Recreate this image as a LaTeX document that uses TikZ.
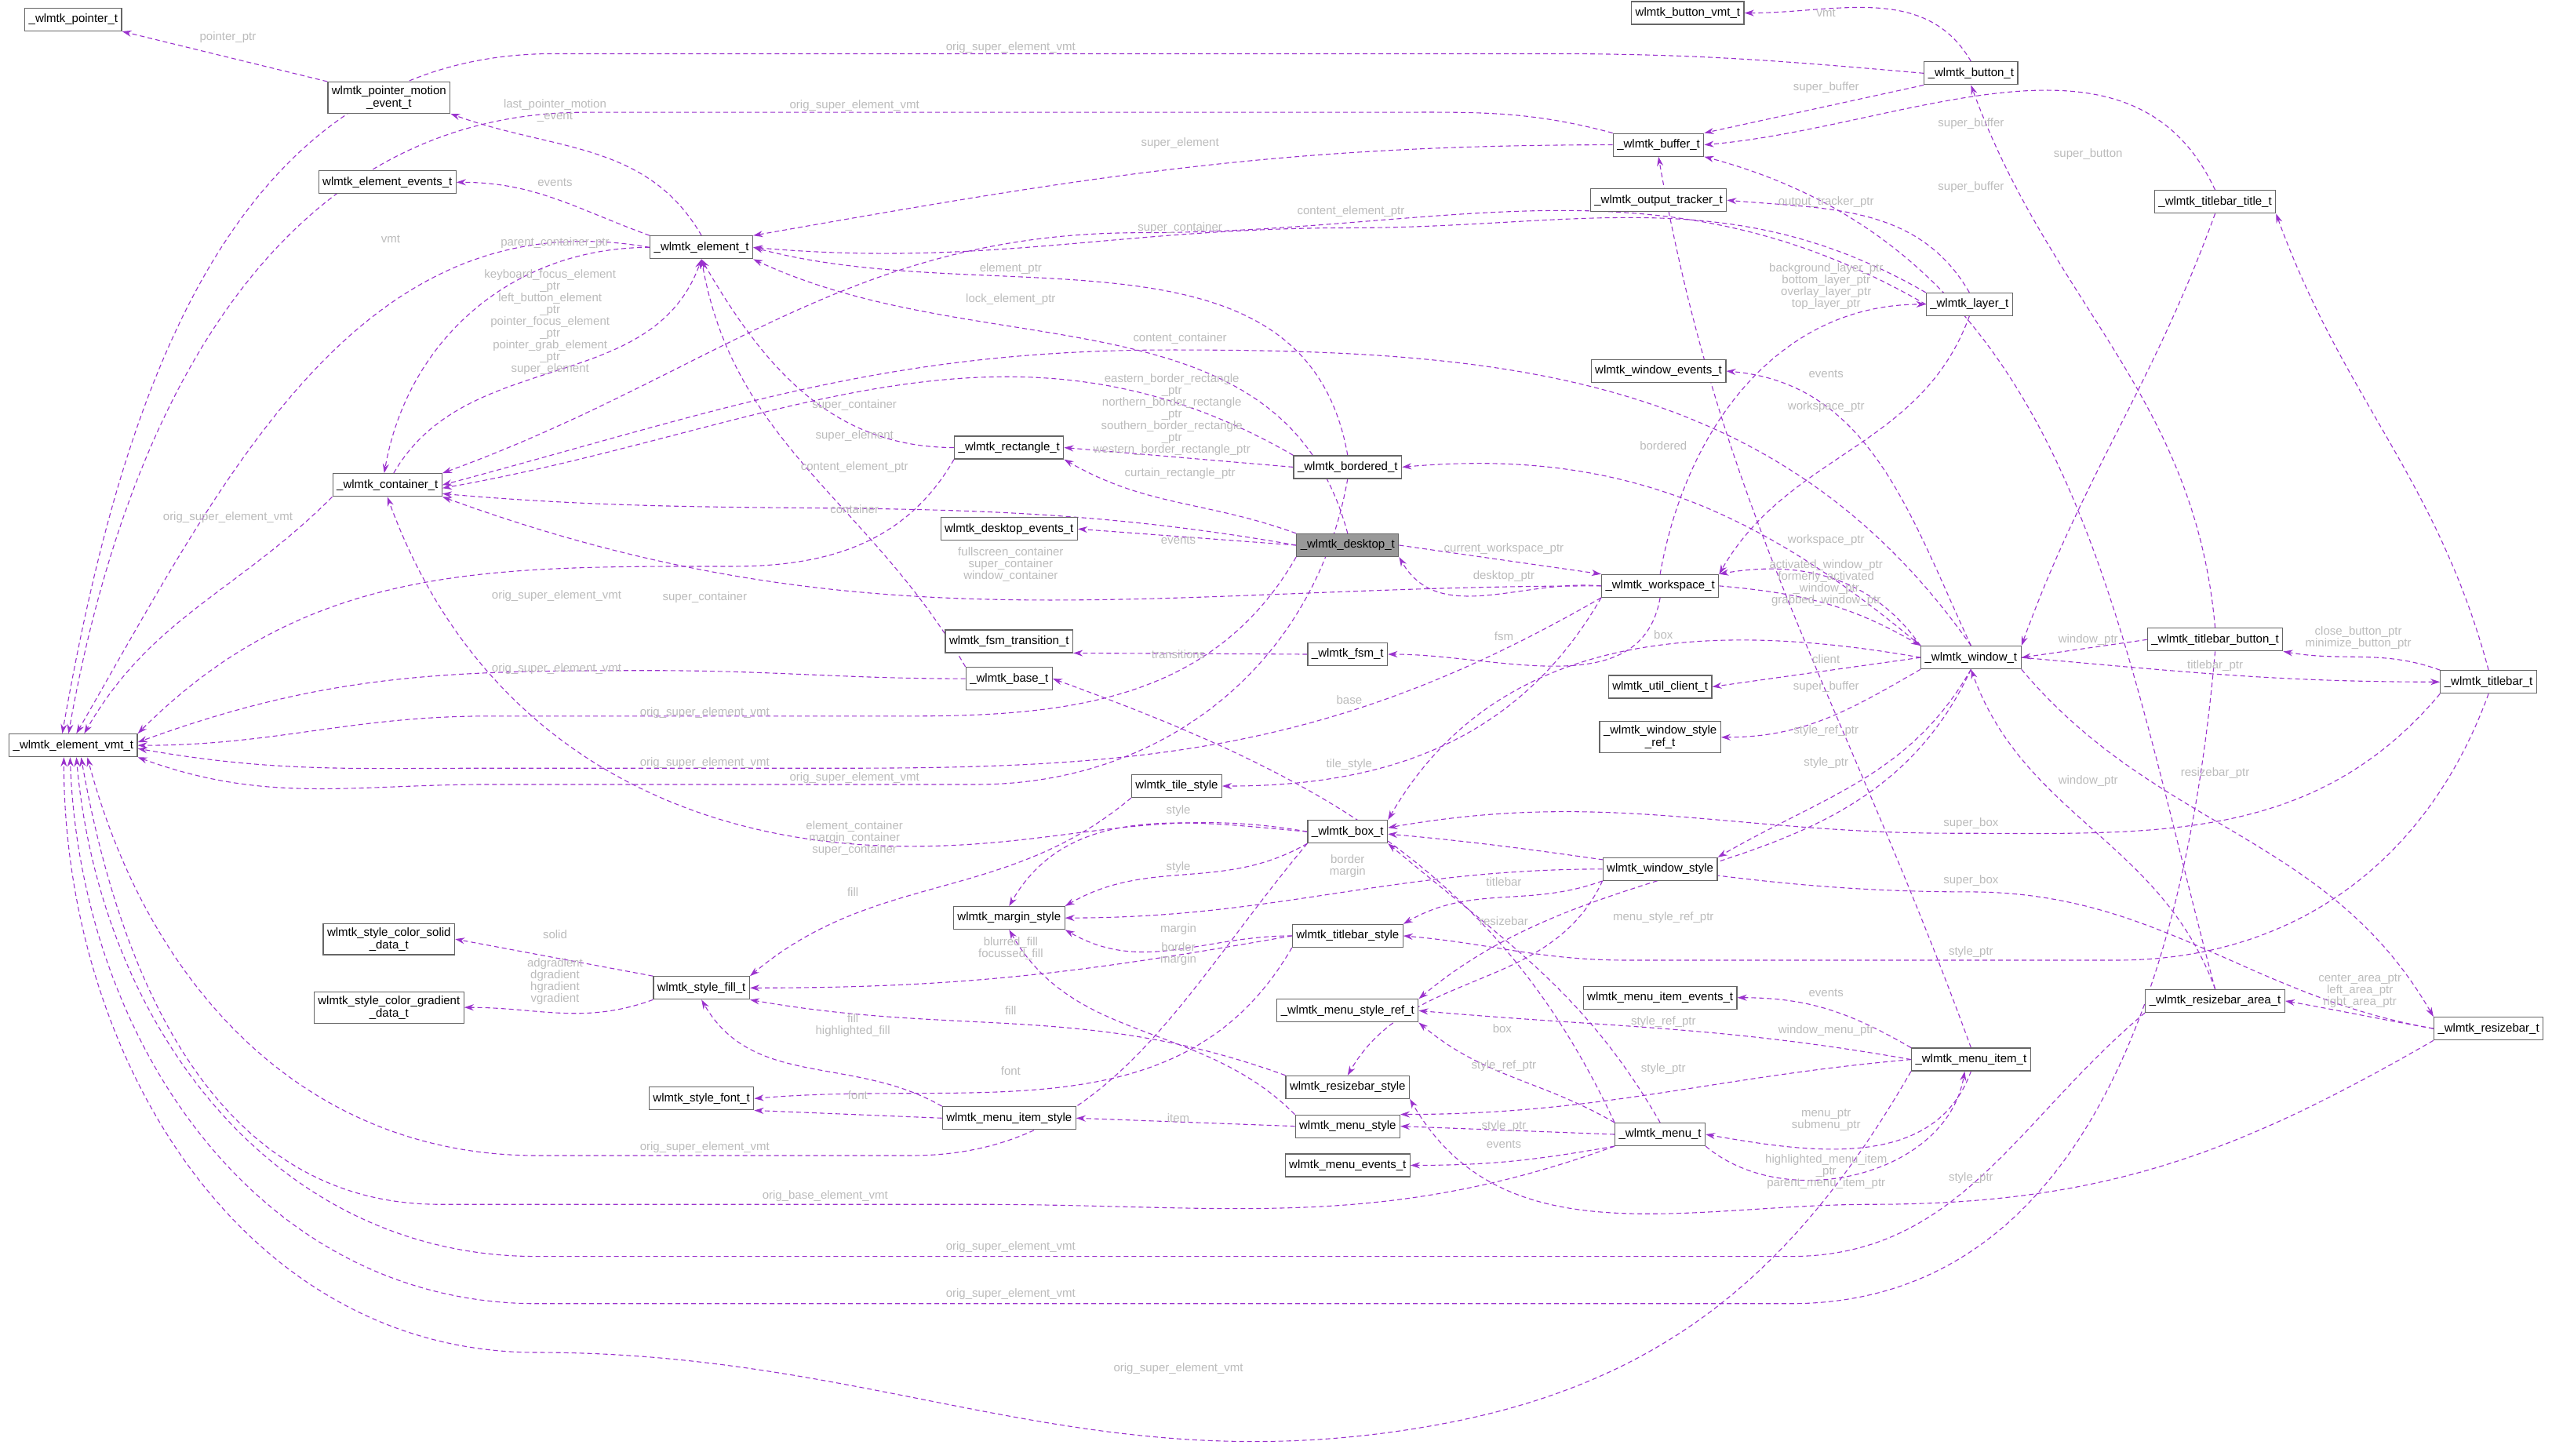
\documentclass[border=0pt]{standalone}
\usepackage{tikz}
\usepackage{graphicx}
\usepackage{fontspec}
\setmainfont{Liberation Sans}
\usetikzlibrary{arrows.meta,backgrounds}
\definecolor{edgec}{HTML}{9A32CD}
\definecolor{lblc}{HTML}{BBBBBB}
\tikzset{
  cls/.style={draw=black!60,fill=white,line width=0.24pt,inner sep=1pt,minimum height=5.8pt,align=center,font=\fontsize{3}{3.2}\selectfont},
  hl/.style={cls,fill=black!40},
  e/.style={draw=edgec,dash pattern=on 1.2pt off 0.8pt,line width=0.22pt,-{Stealth[length=2.4pt,width=1.6pt]}},
  lbl/.style={text=lblc,font=\fontsize{3}{3}\selectfont,align=center,inner sep=0pt}
}
\begin{document}
\scalebox{5}{%
\begin{tikzpicture}[x=0.415pt,y=-0.415pt]
\useasboundingbox (0,0) rectangle (1568,894.5);
% nodes
\node[cls] (ptr) at (45,12) {\_wlmtk\_pointer\_t};
\node[cls] (bvmt) at (1037,8) {wlmtk\_button\_vmt\_t};
\node[cls] (btn) at (1211,45) {\_wlmtk\_button\_t};
\node[cls] (pme) at (239,60) {wlmtk\_pointer\_motion\\\_event\_t};
\node[cls] (buf) at (1019,89) {\_wlmtk\_buffer\_t};
\node[cls] (eev) at (238,112) {wlmtk\_element\_events\_t};
\node[cls] (otr) at (1019,123) {\_wlmtk\_output\_tracker\_t};
\node[cls] (tt) at (1361,124) {\_wlmtk\_titlebar\_title\_t};
\node[cls] (el) at (431,152) {\_wlmtk\_element\_t};
\node[cls] (lay) at (1210,187) {\_wlmtk\_layer\_t};
\node[cls] (wev) at (1019,228) {wlmtk\_window\_events\_t};
\node[cls] (rect) at (620,275) {\_wlmtk\_rectangle\_t};
\node[cls] (bord) at (828,287) {\_wlmtk\_bordered\_t};
\node[cls] (cont) at (238,298) {\_wlmtk\_container\_t};
\node[cls] (dev) at (620,325) {wlmtk\_desktop\_events\_t};
\node[hl] (desk) at (828,335) {\_wlmtk\_desktop\_t};
\node[cls] (ws) at (1020,360) {\_wlmtk\_workspace\_t};
\node[cls] (fsmt) at (620,394) {wlmtk\_fsm\_transition\_t};
\node[cls] (fsm) at (828,402) {\_wlmtk\_fsm\_t};
\node[cls] (win) at (1211,404) {\_wlmtk\_window\_t};
\node[cls] (tbb) at (1361,393) {\_wlmtk\_titlebar\_button\_t};
\node[cls] (base) at (620,417) {\_wlmtk\_base\_t};
\node[cls] (tb) at (1529,419) {\_wlmtk\_titlebar\_t};
\node[cls] (uc) at (1020,422) {wlmtk\_util\_client\_t};
\node[cls] (wsr) at (1020,453) {\_wlmtk\_window\_style\\\_ref\_t};
\node[cls] (vmt) at (45,458) {\_wlmtk\_element\_vmt\_t};
\node[cls] (tile) at (723,483) {wlmtk\_tile\_style};
\node[cls] (box) at (828,511) {\_wlmtk\_box\_t};
\node[cls] (wst) at (1020,534) {wlmtk\_window\_style};
\node[cls] (solid) at (239,577) {wlmtk\_style\_color\_solid\\\_data\_t};
\node[cls] (marg) at (620,564) {wlmtk\_margin\_style};
\node[cls] (tbs) at (828,575) {wlmtk\_titlebar\_style};
\node[cls] (fill) at (431,607) {wlmtk\_style\_fill\_t};
\node[cls] (grad) at (239,619) {wlmtk\_style\_color\_gradient\\\_data\_t};
\node[cls] (mie) at (1020,613) {wlmtk\_menu\_item\_events\_t};
\node[cls] (rba) at (1361,615) {\_wlmtk\_resizebar\_area\_t};
\node[cls] (msr) at (828,621) {\_wlmtk\_menu\_style\_ref\_t};
\node[cls] (rb) at (1529,632) {\_wlmtk\_resizebar\_t};
\node[cls] (mi) at (1211,651) {\_wlmtk\_menu\_item\_t};
\node[cls] (rbs) at (828,668) {wlmtk\_resizebar\_style};
\node[cls] (font) at (431,675) {wlmtk\_style\_font\_t};
\node[cls] (mis) at (620,687) {wlmtk\_menu\_item\_style};
\node[cls] (ms) at (828,692) {wlmtk\_menu\_style};
\node[cls] (menu) at (1020,697) {\_wlmtk\_menu\_t};
\node[cls] (mev) at (828,716) {wlmtk\_menu\_events\_t};
% edges
\begin{pgfonlayer}{background}
\draw[e] (pme.north west) -- (ptr.south east);
\draw[e] (btn.west) to[out=175,in=0] (950,33) -- (340,33) to[out=180,in=80] ([xshift=-2.8pt]vmt.north);
\draw[e] (btn.north) to[out=120,in=0] (bvmt.east);
\draw[e] (btn.south west) -- (buf.north east);
\draw[e] (buf.north west) to[out=165,in=0] (850,69) -- (360,69) to[out=180,in=80] ([xshift=-1.2pt]vmt.north);
\draw[e] (buf.west) to[out=180,in=10] (el.north east);
\draw[e] (el.north) to[out=120,in=-20] (pme.south east);
\draw[e] (el.north west) to[out=160,in=0] (eev.east);
\draw[e] (el.west) to[out=170,in=60] ([xshift=0.8pt]vmt.north);
\draw[e] (el.west) to[out=180,in=80] ([xshift=-0.8pt]cont.north);
\draw[e] ([xshift=1.6pt]cont.north) to[out=60,in=-110] (el.south);
\draw[e] (cont.south west) to[out=-135,in=60] ([xshift=2.8pt]vmt.north);
\draw[e] (tt.north) to[out=115,in=5] (buf.east);
\draw[e] (tbb.north) to[out=95,in=-70] (btn.south);
\draw[e] (rba.north) to[out=105,in=-15] (buf.south east);
\draw[e] (lay.north) to[out=120,in=-5] (otr.east);
\draw[e] (lay.north west) to[out=150,in=0] (830,140) to[out=180,in=-5] (el.east);
\draw[e] (lay.west) to[out=150,in=0] (700,143) to[out=180,in=20] (cont.north east);
\draw[e] (ws.north) to[out=80,in=180] (lay.west);
\draw[e] (lay.south) to[out=-110,in=60] (ws.north east);
\draw[e] (win.north) to[out=115,in=-5] (wev.east);
\draw[e] (win.north west) to[out=125,in=10] (ws.north east);
\draw[e] (ws.east) to[out=-5,in=150] (win.north west);
\draw[e] (win.north west) to[out=140,in=5] (bord.east);
\draw[e] (bord.west) -- (rect.east);
\draw[e] (bord.north) to[out=100,in=-15] (el.east);
\draw[e] (desk.north) to[out=105,in=-25] (el.south east);
\draw[e] (win.north) to[out=125,in=0] (720,215) to[out=180,in=15] (cont.east);
\draw[e] (bord.north west) to[out=150,in=10] ([yshift=-0.8pt]cont.east);
\draw[e] (rect.west) to[out=180,in=-60] (el.south);
\draw[e] (base.north west) to[out=120,in=-80] (el.south);
\draw[e] (desk.west) to[out=170,in=-5] ([yshift=0.8pt]cont.south east);
\draw[e] (desk.west) -- (dev.east);
\draw[e] (desk.east) -- (ws.north west);
\draw[e] (ws.west) to[out=175,in=-60] (desk.south east);
\draw[e] (ws.west) to[out=180,in=-20] (cont.south east);
\draw[e] (desk.north west) to[out=160,in=-30] (rect.south east);
\draw[e] (fsm.west) -- (fsmt.south east);
\draw[e] (ws.south) to[out=-100,in=0] (fsm.east);
\draw[e] (win.west) to[out=170,in=60] (box.north east);
\draw[e] (win.west) -- (uc.east);
\draw[e] (menu.north west) to[out=115,in=-20] (base.east);
\draw[e] (win.south west) to[out=-150,in=0] (wsr.east);
\draw[e] (win.south) to[out=-120,in=30] (wst.north east);
\draw[e] (ws.south west) to[out=-120,in=0] (tile.east);
\draw[e] (tbb.west) -- (win.east);
\draw[e] (tt.south) to[out=-110,in=70] (win.north east);
\draw[e] (tb.north) to[out=105,in=-70] (tt.south east);
\draw[e] (tb.north west) to[out=160,in=-10] (tbb.south east);
\draw[e] (win.east) to[out=-5,in=180] (tb.west);
\draw[e] (win.south east) to[out=-50,in=120] (rb.north west);
\draw[e] (rba.north) to[out=110,in=-70] (win.south);
\draw[e] (tb.south west) to[out=-130,in=0] (1200,512) to[out=180,in=10] ([yshift=1pt]box.east);
\draw[e] (rb.west) to[out=170,in=0] (1210,548) to[out=180,in=-5] ([yshift=-0.6pt]box.east);
\draw[e] (tb.south) to[out=-110,in=0] (1300,590) -- (1000,590) to[out=180,in=-5] (tbs.east);
\draw[e] (box.west) to[out=170,in=0] (560,520) to[out=180,in=-70] (cont.south);
\draw[e] (box.west) to[out=175,in=60] (marg.north);
\draw[e] (box.south west) to[out=-150,in=30] (marg.north east);
\draw[e] (wst.west) to[out=180,in=0] (marg.east);
\draw[e] (wst.south west) to[out=-160,in=30] (tbs.north east);
\draw[e] (wst.south west) to[out=-115,in=60] (rbs.north);
\draw[e] (win.south) to[out=-115,in=40] (msr.north east);
\draw[e] (tbs.west) to[out=180,in=-30] (marg.south east);
\draw[e] (tbs.west) to[out=190,in=0] (fill.east);
\draw[e] (ms.north west) to[out=135,in=-60] (marg.south);
\draw[e] (tile.south west) to[out=-140,in=40] (fill.north east);
\draw[e] (rbs.north west) to[out=160,in=-10] (fill.south east);
\draw[e] (mis.north west) to[out=150,in=-60] (fill.south);
\draw[e] (fill.north west) -- (solid.east);
\draw[e] (fill.south west) to[out=-160,in=0] (grad.east);
\draw[e] (tbs.south west) to[out=-120,in=5] (font.east);
\draw[e] (mis.west) -- (font.south east);
\draw[e] (ms.west) -- (mis.east);
\draw[e] (mi.north west) to[out=150,in=0] (mie.east);
\draw[e] (mi.west) to[out=170,in=-5] (msr.east);
\draw[e] (mi.west) to[out=185,in=0] (ms.north east);
\draw[e] (menu.north west) to[out=150,in=-40] (msr.south east);
\draw[e] (menu.west) -- (ms.east);
\draw[e] (menu.south west) to[out=-170,in=0] (mev.east);
\draw[e] (menu.north) to[out=120,in=-40] (box.south east);
\draw[e] (mi.south) to[out=-110,in=-10] (menu.east);
\draw[e] (menu.south east) to[out=-40,in=-100] ([xshift=-1.6pt]mi.south);
\draw[e] (rb.west) to[out=170,in=-10] (rba.east);
\draw[e] (rb.south west) to[out=-150,in=0] (1150,740) to[out=180,in=-60] (rbs.south east);
\draw[e] (mi.north) to[out=110,in=-80] (buf.south);
\draw[e] (rect.south west) to[out=-120,in=0] (450,348) to[out=180,in=45] (vmt.north east);
\draw[e] (base.west) to[out=180,in=0] (400,412) to[out=180,in=20] ([yshift=0.8pt]vmt.east);
\draw[e] (desk.south west) to[out=-120,in=0] (560,440) -- (300,440) to[out=180,in=0] (vmt.east);
\draw[e] (ws.south west) to[out=-150,in=0] (520,472) -- (300,472) to[out=180,in=-10] ([yshift=-0.8pt]vmt.east);
\draw[e] (bord.south) to[out=-100,in=0] (600,482) -- (300,482) to[out=180,in=-20] (vmt.south east);
\draw[e] (box.south west) to[out=-130,in=0] (560,710) -- (330,710) to[out=180,in=-75] ([xshift=3.6pt]vmt.south);
\draw[e] (menu.south west) to[out=-160,in=0] (600,740) -- (270,740) to[out=180,in=-80] ([xshift=2pt]vmt.south);
\draw[e] (rba.south west) to[out=-140,in=0] (1100,772) -- (330,772) to[out=180,in=-85] ([xshift=0.8pt]vmt.south);
\draw[e] (tbb.south) to[out=-95,in=0] (1100,801) -- (330,801) to[out=180,in=-88] ([xshift=-0.8pt]vmt.south);
\draw[e] (mi.south west) to[out=-120,in=10] (880,876) to[out=190,in=0] (330,831) to[out=180,in=-90] ([xshift=-2.4pt]vmt.south);
\end{pgfonlayer}
% labels
\node[lbl] at (140,23) {pointer\_ptr};
\node[lbl] at (621,29) {orig\_super\_element\_vmt};
\node[lbl] at (1122,8) {vmt};
\node[lbl] at (1122,54) {super\_buffer};
\node[lbl] at (525,65) {orig\_super\_element\_vmt};
\node[lbl] at (725,88) {super\_element};
\node[lbl] at (341,68) {last\_pointer\_motion\\\_event};
\node[lbl] at (341,112) {events};
\node[lbl] at (240,147) {vmt};
\node[lbl] at (341,149) {parent\_container\_ptr};
\node[lbl] at (338,198) {keyboard\_focus\_element\\\_ptr\\left\_button\_element\\\_ptr\\pointer\_focus\_element\\\_ptr\\pointer\_grab\_element\\\_ptr\\super\_element};
\node[lbl] at (140,318) {orig\_super\_element\_vmt};
\node[lbl] at (1211,76) {super\_buffer};
\node[lbl] at (1283,95) {super\_button};
\node[lbl] at (1211,115) {super\_buffer};
\node[lbl] at (1122,124) {output\_tracker\_ptr};
\node[lbl] at (830,130) {content\_element\_ptr};
\node[lbl] at (725,140) {super\_container};
\node[lbl] at (621,165) {element\_ptr};
\node[lbl] at (621,184) {lock\_element\_ptr};
\node[lbl] at (1122,176) {background\_layer\_ptr\\bottom\_layer\_ptr\\overlay\_layer\_ptr\\top\_layer\_ptr};
\node[lbl] at (725,208) {content\_container};
\node[lbl] at (1122,230) {events};
\node[lbl] at (1122,250) {workspace\_ptr};
\node[lbl] at (720,255) {eastern\_border\_rectangle\\\_ptr\\northern\_border\_rectangle\\\_ptr\\southern\_border\_rectangle\\\_ptr\\western\_border\_rectangle\_ptr};
\node[lbl] at (525,249) {super\_container};
\node[lbl] at (525,268) {super\_element};
\node[lbl] at (525,287) {content\_element\_ptr};
\node[lbl] at (1022,274) {bordered};
\node[lbl] at (725,291) {curtain\_rectangle\_ptr};
\node[lbl] at (525,313) {container};
\node[lbl] at (724,332) {events};
\node[lbl] at (924,337) {current\_workspace\_ptr};
\node[lbl] at (1122,332) {workspace\_ptr};
\node[lbl] at (621,347) {fullscreen\_container\\super\_container\\window\_container};
\node[lbl] at (924,354) {desktop\_ptr};
\node[lbl] at (1122,358) {activated\_window\_ptr\\formerly\_activated\\\_window\_ptr\\grabbed\_window\_ptr};
\node[lbl] at (342,366) {orig\_super\_element\_vmt};
\node[lbl] at (433,367) {super\_container};
\node[lbl] at (1022,390) {box};
\node[lbl] at (924,391) {fsm};
\node[lbl] at (1283,393) {window\_ptr};
\node[lbl] at (1449,392) {close\_button\_ptr\\minimize\_button\_ptr};
\node[lbl] at (724,402) {transitions};
\node[lbl] at (1122,405) {client};
\node[lbl] at (1361,409) {titlebar\_ptr};
\node[lbl] at (342,411) {orig\_super\_element\_vmt};
\node[lbl] at (1122,422) {super\_buffer};
\node[lbl] at (829,430) {base};
\node[lbl] at (433,438) {orig\_super\_element\_vmt};
\node[lbl] at (1122,449) {style\_ref\_ptr};
\node[lbl] at (433,469) {orig\_super\_element\_vmt};
\node[lbl] at (1122,469) {style\_ptr};
\node[lbl] at (829,470) {tile\_style};
\node[lbl] at (1361,475) {resizebar\_ptr};
\node[lbl] at (525,478) {orig\_super\_element\_vmt};
\node[lbl] at (1283,480) {window\_ptr};
\node[lbl] at (724,498) {style};
\node[lbl] at (1211,506) {super\_box};
\node[lbl] at (525,515) {element\_container\\margin\_container\\super\_container};
\node[lbl] at (828,532) {border\\margin};
\node[lbl] at (724,533) {style};
\node[lbl] at (1211,541) {super\_box};
\node[lbl] at (924,542) {titlebar};
\node[lbl] at (524,548) {fill};
\node[lbl] at (1022,564) {menu\_style\_ref\_ptr};
\node[lbl] at (924,566) {resizebar};
\node[lbl] at (724,571) {margin};
\node[lbl] at (341,574) {solid};
\node[lbl] at (621,583) {blurred\_fill\\focussed\_fill};
\node[lbl] at (1211,585) {style\_ptr};
\node[lbl] at (724,586) {border\\margin};
\node[lbl] at (341,603) {adgradient\\dgradient\\hgradient\\vgradient};
\node[lbl] at (1450,609) {center\_area\_ptr\\left\_area\_ptr\\right\_area\_ptr};
\node[lbl] at (1122,610) {events};
\node[lbl] at (621,621) {fill};
\node[lbl] at (1022,628) {style\_ref\_ptr};
\node[lbl] at (524,630) {fill\\highlighted\_fill};
\node[lbl] at (923,632) {box};
\node[lbl] at (1122,633) {window\_menu\_ptr};
\node[lbl] at (924,655) {style\_ref\_ptr};
\node[lbl] at (1022,657) {style\_ptr};
\node[lbl] at (621,658) {font};
\node[lbl] at (527,673) {font};
\node[lbl] at (724,687) {item};
\node[lbl] at (1122,688) {menu\_ptr\\submenu\_ptr};
\node[lbl] at (924,692) {style\_ptr};
\node[lbl] at (924,703) {events};
\node[lbl] at (433,705) {orig\_super\_element\_vmt};
\node[lbl] at (1122,720) {highlighted\_menu\_item\\\_ptr\\parent\_menu\_item\_ptr};
\node[lbl] at (1211,724) {style\_ptr};
\node[lbl] at (507,735) {orig\_base\_element\_vmt};
\node[lbl] at (621,766) {orig\_super\_element\_vmt};
\node[lbl] at (621,795) {orig\_super\_element\_vmt};
\node[lbl] at (724,841) {orig\_super\_element\_vmt};
\end{tikzpicture}}
\end{document}
